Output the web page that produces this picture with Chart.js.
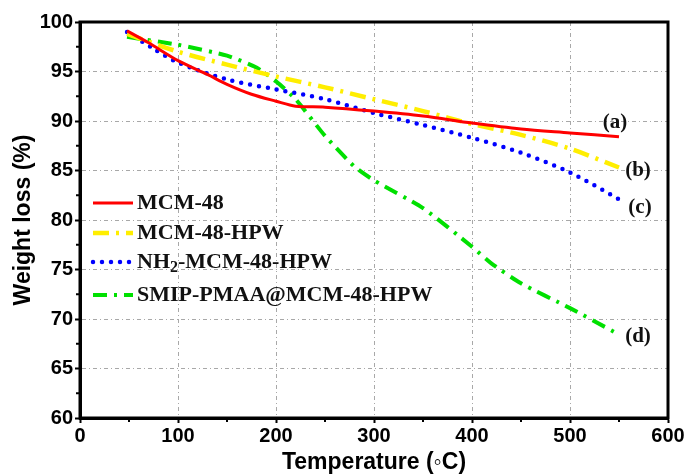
<!DOCTYPE html>
<html>
<head>
<meta charset="utf-8">
<script src="https://cdn.jsdelivr.net/npm/chart.js@4.4.1/dist/chart.umd.min.js"></script>
<style>
  html, body { margin: 0; padding: 0; background: #fff; }
  #wrap { width: 688px; height: 476px; }
</style>
</head>
<body>
<div id="wrap"><canvas id="c" width="688" height="476"></canvas></div>
<script>
// TGA curves
const tempA = [48, 70, 100, 130, 150, 175, 200, 220, 250, 300, 350, 400, 450, 500, 550];
const mcm48 = [99.1, 97.9, 96.1, 94.7, 93.7, 92.7, 92.0, 91.5, 91.4, 91.0, 90.5, 89.8, 89.2, 88.8, 88.4];

const tempB = [48, 100, 150, 200, 250, 300, 350, 400, 450, 500, 550];
const mcm48Hpw = [98.8, 97.0, 95.7, 94.5, 93.4, 92.2, 91.0, 89.7, 88.6, 87.2, 85.3];

const tempC = [48, 75, 100, 150, 200, 250, 300, 350, 400, 450, 500, 550];
const nh2Hpw = [99.0, 97.3, 95.9, 94.2, 93.2, 92.2, 90.8, 89.6, 88.3, 86.8, 84.8, 82.1];

const tempD = [48, 100, 150, 180, 200, 220, 250, 280, 300, 350, 400, 420, 450, 500, 545];
const smip = [98.5, 97.7, 96.6, 95.4, 94.0, 92.2, 88.5, 85.4, 84.0, 81.2, 77.3, 75.6, 73.6, 71.1, 68.7];

const xTicks = [0, 100, 200, 300, 400, 500, 600];
const yTicks = [60, 65, 70, 75, 80, 85, 90, 95, 100];

function pts(xs, ys) {
  return xs.map((x, i) => ({ x: x, y: ys[i] }));
}

const legendNames = ['MCM-48', 'MCM-48-HPW', 'NH2-MCM-48-HPW', 'SMIP-PMAA@MCM-48-HPW'];
const curveTags = ['(a)', '(b)', '(c)', '(d)'];
const serif = '"Liberation Serif", "Times New Roman", serif';

// legend + (a)..(d) tags + frame + minor ticks
const extras = {
  id: 'extras',
  afterDraw(chart) {
    const ctx = chart.ctx;
    const a = chart.chartArea;
    const xs = chart.scales.x, ys = chart.scales.y;
    ctx.save();

    // frame
    ctx.strokeStyle = '#000';
    ctx.lineWidth = 3;
    ctx.setLineDash([]);
    ctx.strokeRect(a.left, a.top, a.right - a.left, a.bottom - a.top);

    // minor ticks
    ctx.lineWidth = 2;
    for (let v = 50; v < 600; v += 100) {
      const px = xs.getPixelForValue(v);
      ctx.beginPath(); ctx.moveTo(px, a.bottom); ctx.lineTo(px, a.bottom + 4); ctx.stroke();
    }
    for (let v = 62.5; v < 100; v += 5) {
      const py = ys.getPixelForValue(v);
      ctx.beginPath(); ctx.moveTo(a.left, py); ctx.lineTo(a.left - 4, py); ctx.stroke();
    }

    // legend
    const rows = [203, 233, 262, 295];
    const big = 'bold 22px ' + serif;
    chart.data.datasets.forEach((ds, i) => {
      const y = rows[i];
      ctx.strokeStyle = ds.borderColor;
      ctx.lineWidth = ds.borderWidth;
      ctx.lineCap = ds.borderCapStyle || 'butt';
      ctx.setLineDash(ds.borderDash || []);
      ctx.beginPath(); ctx.moveTo(93, y); ctx.lineTo(133, y); ctx.stroke();
      ctx.setLineDash([]);
      ctx.fillStyle = '#111';
      ctx.textBaseline = 'middle';
      ctx.textAlign = 'left';
      ctx.font = big;
      const name = legendNames[i];
      if (name.startsWith('NH2')) {
        ctx.fillText('NH', 137, y);
        let w = ctx.measureText('NH').width;
        ctx.font = 'bold 16px ' + serif;
        ctx.fillText('2', 137 + w, y + 6);
        w += ctx.measureText('2').width;
        ctx.font = big;
        ctx.fillText(name.slice(3), 137 + w, y);
      } else {
        ctx.fillText(name, 137, y);
      }
    });

    // curve tags
    const tagPos = [[615, 123], [638, 171], [640, 208], [638, 337]];
    ctx.font = 'bold 21px ' + serif;
    ctx.textAlign = 'center';
    ctx.fillStyle = '#111';
    curveTags.forEach((t, i) => ctx.fillText(t, tagPos[i][0], tagPos[i][1]));
    ctx.restore();
  }
};

const tickFont = { family: '"Liberation Sans", Arial, sans-serif', size: 20, weight: 'bold' };
const titleFont = { family: '"Liberation Sans", Arial, sans-serif', size: 23, weight: 'bold' };
const gridStyle = { color: '#a8a8a8', lineWidth: 1, drawTicks: true, tickLength: 5, tickColor: '#000', tickWidth: 2, tickBorderDash: [] };
const borderStyle = { color: '#000', width: 3, dash: [4, 3, 1, 3] };

new Chart(document.getElementById('c'), {
  type: 'scatter',
  data: {
    datasets: [
      { label: legendNames[0], data: pts(tempA, mcm48), borderColor: '#ff0000', borderWidth: 3, showLine: true, pointRadius: 0, tension: 0.3 },
      { label: legendNames[1], data: pts(tempB, mcm48Hpw), borderColor: '#ffee00', borderWidth: 4.5, borderDash: [16, 7, 3, 7], showLine: true, pointRadius: 0, tension: 0.3 },
      { label: legendNames[2], data: pts(tempC, nh2Hpw), borderColor: '#0000ff', borderWidth: 4.5, borderDash: [0, 9], borderCapStyle: 'round', showLine: true, pointRadius: 0, tension: 0.3 },
      { label: legendNames[3], data: pts(tempD, smip), borderColor: '#00e000', borderWidth: 4, borderDash: [14, 7, 3, 7], showLine: true, pointRadius: 0, tension: 0.2 }
    ]
  },
  options: {
    responsive: false,
    animation: false,
    layout: { padding: { top: 22, right: 20, left: 0, bottom: 0 } },
    plugins: { legend: { display: false }, tooltip: { enabled: false } },
    scales: {
      x: {
        type: 'linear', min: 0, max: 600,
        afterBuildTicks: s => { s.ticks = xTicks.map(v => ({ value: v })); },
        afterFit: s => { s.height = 58; },
        grid: gridStyle,
        border: borderStyle,
        ticks: { font: tickFont, color: '#000', padding: 1, maxRotation: 0 },
        title: { display: true, text: 'Temperature (◦C)', font: titleFont, color: '#000', padding: { top: 0, bottom: 0 } }
      },
      y: {
        type: 'linear', min: 60, max: 100,
        afterBuildTicks: s => { s.ticks = yTicks.map(v => ({ value: v })); },
        afterFit: s => { s.width = 80; },
        grid: gridStyle,
        border: borderStyle,
        ticks: { font: tickFont, color: '#000', padding: 2 },
        title: { display: true, text: 'Weight loss (%)', font: titleFont, color: '#000', padding: { top: 10, bottom: 4 } }
      }
    }
  },
  plugins: [extras]
});
</script>
</body>
</html>
